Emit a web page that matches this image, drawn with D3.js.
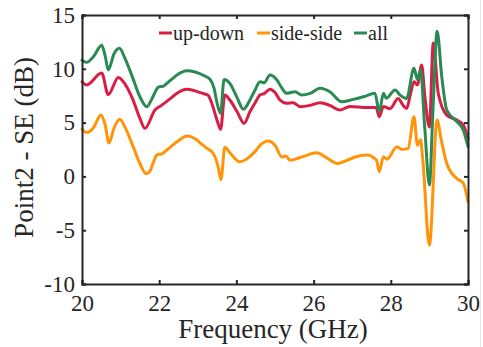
<!DOCTYPE html>
<html>
<head>
<meta charset="utf-8">
<script src="https://cdn.jsdelivr.net/npm/d3@7"></script>
<style>
  html, body { margin: 0; padding: 0; background: #fff; }
  svg { display: block; }
</style>
</head>
<body>
<svg id="chart" width="483" height="347"></svg>
<script>
// ---- data ----
const seriesNames = ["up-down", "side-side", "all"];
const seriesColors = ["#d81e44", "#ff9408", "#2a8a52"];

const upDownFreq = [20.00,20.12,20.51,20.68,20.94,21.11,21.30,21.50,21.63,21.89,22.06,22.28,22.49,22.71,22.93,23.14,23.26,23.39,23.50,23.59,23.70,23.83,24.02,24.20,24.35,24.48,24.61,24.72,24.87,25.00,25.13,25.30,25.47,25.65,25.91,26.17,26.42,26.68,26.94,27.38,27.62,27.70,27.81,27.98,28.19,28.32,28.41,28.50,28.60,28.69,28.80,28.88,29.00,29.10,29.23,29.45,29.71,29.88,30.00];
const upDownVals = [8.8,8.5,9.6,7.6,9.2,8.6,7.3,5.4,4.47,6.17,6.6,7.2,7.8,8.1,7.95,7.7,7.56,6.5,5.2,4.37,7.56,7.1,6.0,4.93,6.0,6.8,7.56,7.7,8.1,7.8,7.1,6.8,6.85,6.48,6.6,6.85,6.6,6.17,6.5,6.4,6.4,5.55,6.5,6.3,7.25,6.6,6.3,7.5,8.8,8.5,10.35,7.5,4.6,12.4,7.7,5.7,5.24,4.78,3.5];

const sideSideFreq = [20.00,20.10,20.16,20.31,20.49,20.60,20.70,20.83,20.98,21.11,21.30,21.50,21.66,21.76,21.87,21.94,22.07,22.28,22.49,22.72,22.93,23.13,23.24,23.39,23.52,23.60,23.70,23.83,24.09,24.30,24.48,24.66,24.83,25.00,25.18,25.28,25.39,25.65,26.08,26.35,26.61,26.87,27.07,27.38,27.63,27.70,27.81,27.90,28.16,28.29,28.45,28.60,28.69,28.77,28.83,29.00,29.20,29.30,29.45,29.71,29.88,30.00];
const sideSideVals = [4.4,4.1,4.1,4.6,5.7,4.8,3.1,4.5,5.3,4.6,3.0,1.2,0.25,0.5,1.5,2.0,2.1,2.7,3.3,3.75,3.5,2.9,2.6,2.2,1.0,-0.3,2.7,2.2,1.37,1.7,2.3,3.05,3.3,2.9,1.8,1.9,1.5,1.75,2.2,1.7,1.2,1.5,1.8,2.0,1.5,0.44,1.83,1.6,2.76,2.5,2.6,5.55,2.9,3.4,1.5,-6.4,5.24,3.5,1.2,-0.2,-0.64,-2.35];

const allFreq = [20.00,20.12,20.31,20.51,20.60,20.68,20.83,20.97,21.11,21.30,21.50,21.68,21.81,21.98,22.11,22.28,22.49,22.71,22.93,23.14,23.32,23.42,23.50,23.59,23.68,23.83,24.02,24.18,24.35,24.48,24.61,24.72,24.87,25.04,25.18,25.30,25.52,25.69,25.91,26.17,26.42,26.73,27.03,27.29,27.59,27.70,27.81,27.88,28.11,28.24,28.41,28.60,28.69,28.77,28.88,29.00,29.09,29.20,29.32,29.45,29.71,29.88,30.00];
const allVals = [10.8,10.6,11.2,12.2,11.2,9.9,11.4,11.9,11.0,9.3,7.4,6.48,7.2,8.3,8.4,8.9,9.5,9.82,9.7,9.4,9.0,8.2,6.8,5.86,9.0,8.65,7.3,6.24,7.1,8.0,8.8,8.7,9.42,9.0,8.2,7.72,7.87,7.56,7.72,8.19,7.87,6.94,7.16,7.4,7.72,6.0,7.72,7.26,8.03,7.56,7.25,10.05,9.0,9.9,4.5,-0.8,6.0,13.5,9.27,6.17,5.1,4.3,2.76];

const xTicks = [20, 22, 24, 26, 28, 30];
const yTicks = [-10, -5, 0, 5, 10, 15];
const xLabel = "Frequency (GHz)";
const yLabel = "Point2 - SE (dB)";

// ---- layout ----
const svg = d3.select("#chart");
const L = 82, R = 468, T = 15, B = 284;
const x = d3.scaleLinear().domain([20, 30]).range([L, R]);
const y = d3.scaleLinear().domain([-10, 15]).range([B, T]);
const axisColor = "#262626";
const font = "'Liberation Serif', 'Times New Roman', Times, 'Nimbus Roman', 'Nimbus Roman No9 L', FreeSerif, 'Noto Serif', 'DejaVu Serif', serif";

// faint figure frame line at right edge
svg.append("line").attr("x1", 480.5).attr("x2", 480.5).attr("y1", 0).attr("y2", 347)
  .attr("stroke", "#e6e6e6").attr("stroke-width", 1);

// ---- lines ----
const series = [
  { f: upDownFreq, v: upDownVals },
  { f: sideSideFreq, v: sideSideVals },
  { f: allFreq, v: allVals }
];
const line = d3.line().x(d => x(d[0])).y(d => y(d[1])).curve(d3.curveMonotoneX);
const plot = svg.append("g");
series.forEach((s, i) => {
  const pts = s.f.map((f, k) => [f, s.v[k]]);
  plot.append("path").datum(pts)
    .attr("d", line)
    .attr("fill", "none")
    .attr("stroke", seriesColors[i])
    .attr("stroke-width", 3)
    .attr("stroke-linejoin", "round")
    .attr("stroke-linecap", "round");
});

// ---- axes (MATLAB style, ticks inward, box) ----
const tickLen = 4;
const fmt = d => String(d);
const axB = svg.append("g").attr("transform", `translate(0,${B})`)
  .call(d3.axisBottom(x).tickValues(xTicks).tickSize(-tickLen).tickPadding(11).tickFormat(fmt));
const axT = svg.append("g").attr("transform", `translate(0,${T})`)
  .call(d3.axisTop(x).tickValues(xTicks).tickSize(-tickLen).tickFormat(""));
const axL = svg.append("g").attr("transform", `translate(${L},0)`)
  .call(d3.axisLeft(y).tickValues(yTicks).tickSize(-tickLen).tickPadding(7).tickFormat(fmt));
const axR = svg.append("g").attr("transform", `translate(${R},0)`)
  .call(d3.axisRight(y).tickValues(yTicks).tickSize(-tickLen).tickFormat(""));
[axB, axT, axL, axR].forEach(g => {
  g.attr("font-family", font);
  g.select(".domain").attr("stroke", axisColor).attr("stroke-width", 2);
  g.selectAll(".tick line").attr("stroke", axisColor).attr("stroke-width", 2);
  g.selectAll(".tick text").attr("fill", axisColor)
    .attr("font-family", font).attr("font-size", 23);
});

// axis labels
svg.append("text").attr("x", (L + R) / 2 - 2).attr("y", 338)
  .attr("text-anchor", "middle").attr("fill", axisColor)
  .attr("font-family", font).attr("font-size", 27).text(xLabel);
svg.append("text")
  .attr("transform", `translate(33,${(T + B) / 2 - 2}) rotate(-90)`)
  .attr("text-anchor", "middle").attr("fill", axisColor)
  .attr("font-family", font).attr("font-size", 27).text(yLabel);

// ---- legend ----
const legendX = [159, 257, 354];
const lg = svg.append("g");
seriesNames.forEach((name, i) => {
  lg.append("line").attr("x1", legendX[i]).attr("x2", legendX[i] + 13)
    .attr("y1", 33).attr("y2", 33)
    .attr("stroke", seriesColors[i]).attr("stroke-width", 3);
  lg.append("text").attr("x", legendX[i] + 14).attr("y", 40)
    .attr("fill", axisColor)
    .attr("font-family", font).attr("font-size", 20).text(name);
});
</script>
</body>
</html>
